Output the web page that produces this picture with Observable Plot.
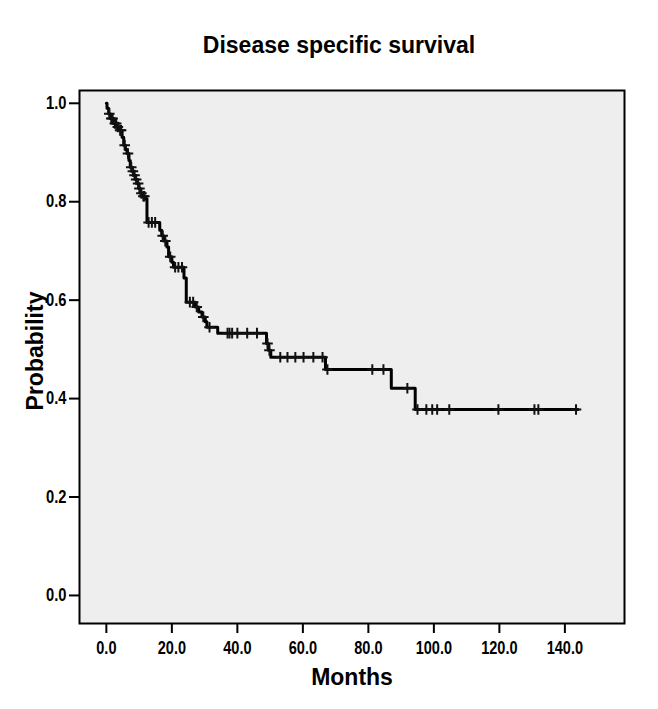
<!DOCTYPE html>
<html>
<head>
<meta charset="utf-8">
<script src="https://cdn.jsdelivr.net/npm/d3@7"></script>
<script src="https://cdn.jsdelivr.net/npm/@observablehq/plot@0.6"></script>
<style>
  html, body { margin: 0; padding: 0; background: #fff; }
  #chart { width: 658px; height: 709px; }
</style>
</head>
<body>
<div id="chart"></div>
<script>
const titleText = "Disease specific survival";
const xLabel = "Months";
const yLabel = "Probability";
const xTicks = [0, 20, 40, 60, 80, 100, 120, 140];
const yTicks = [0, 0.2, 0.4, 0.6, 0.8, 1.0];

// Kaplan-Meier step times (months) and survival after each step
const stepTimes = [0, 0.2, 0.7, 1.2, 2.2, 3.2, 3.9, 4.8, 5.3, 5.8, 6.3, 6.9, 7.3, 7.9, 8.3, 8.9, 9.4, 9.9, 10.4, 11.0, 11.9, 12.4, 16.3, 16.9, 17.5, 18.5, 19.0, 20.0, 20.5, 23.7, 24.4, 27.2, 28.2, 29.2, 30.2, 30.7, 34.0, 48.9, 49.5, 50.2, 66.9, 87.0, 94.3];
const survival  = [1.0, 0.99, 0.979, 0.969, 0.959, 0.952, 0.945, 0.931, 0.915, 0.906, 0.898, 0.884, 0.870, 0.862, 0.854, 0.845, 0.837, 0.827, 0.817, 0.811, 0.806, 0.758, 0.742, 0.731, 0.72, 0.708, 0.688, 0.677, 0.667, 0.645, 0.596, 0.586, 0.576, 0.566, 0.556, 0.545, 0.533, 0.512, 0.498, 0.484, 0.459, 0.421, 0.378];
const lastFollowUp = 144.0;

// Censored observations (months)
const censorTimes = [0.9, 1.5, 1.9, 2.6, 3.0, 3.5, 4.2, 4.5, 5.6, 6.6, 7.6, 8.1, 8.6, 9.1, 9.7, 10.1, 10.7, 11.3, 11.6, 12.9, 13.9, 14.9, 17.2, 18.0, 19.5, 21.0, 22.0, 23.1, 25.5, 26.5, 27.6, 29.6, 31.5, 37.0, 37.6, 38.4, 40.0, 43.0, 46.0, 49.2, 49.8, 53.1, 55.3, 57.7, 60.2, 63.2, 66.0, 67.5, 81.2, 84.6, 91.9, 95.0, 97.7, 99.5, 101.0, 104.7, 119.7, 130.7, 131.9, 143.4];

const curve = stepTimes.map((t, i) => ({t, s: survival[i]}));
curve.push({t: lastFollowUp, s: survival[survival.length - 1]});

const bis = d3.bisector(d => d).right;
const censors = censorTimes.map(t => ({t, s: survival[Math.max(0, bis(stepTimes, t) - 1)]}));

const fmt = d3.format(".1f");
const font = "'Liberation Sans', Arial, sans-serif";

const chart = Plot.plot({
  width: 658,
  height: 709,
  marginTop: 90,
  marginLeft: 79,
  marginRight: 34,
  marginBottom: 86,
  style: {fontFamily: font, fontWeight: "bold", color: "#000", background: "#fff"},
  x: {domain: [-8.2, 158.2]},
  y: {domain: [-0.057, 1.026]},
  marks: [
    Plot.frame({fill: "#eeeeee", stroke: "none"}),
    Plot.line(curve, {x: "t", y: "s", curve: "step-after", stroke: "#000", strokeWidth: 3}),
    Plot.dot(censors, {x: "t", y: "s", symbol: "plus", r: 3.5, stroke: "#111", strokeWidth: 2}),
    Plot.frame({stroke: "#000", strokeWidth: 2}),
    Plot.axisX({ticks: xTicks, tickFormat: fmt, tickSize: 10, tickPadding: 8, fontSize: 17.5, strokeWidth: 2, label: null, ariaLabel: "x-axis"}),
    Plot.axisY({ticks: yTicks, tickFormat: fmt, tickSize: 10, tickPadding: 3, fontSize: 17.5, strokeWidth: 2, label: null, ariaLabel: "y-axis"}),
    Plot.text([titleText], {text: d => d, frameAnchor: "top", lineAnchor: "middle", textAnchor: "middle", dx: -13, dy: -45, fontSize: 23, fontWeight: "bold", ariaLabel: "title"}),
    Plot.text([xLabel], {text: d => d, frameAnchor: "bottom", lineAnchor: "middle", textAnchor: "middle", dy: 54, fontSize: 23, fontWeight: "bold", ariaLabel: "xlabel"}),
    Plot.text([yLabel], {text: d => d, frameAnchor: "left", lineAnchor: "middle", textAnchor: "middle", dx: -44, dy: -6, rotate: -90, fontSize: 23, fontWeight: "bold", ariaLabel: "ylabel"})
  ]
});
document.getElementById("chart").appendChild(chart);

// Condense text horizontally to mimic the narrow typeface of the original
const condense = {"x-axis": 0.83, "y-axis": 0.84, "title": 0.92, "xlabel": 0.83, "ylabel": 0.98};
chart.querySelectorAll("g[aria-label]").forEach(g => {
  const label = g.getAttribute("aria-label");
  let f = null;
  for (const k in condense) if (label.startsWith(k)) f = condense[k];
  if (f == null) return;
  g.querySelectorAll("text").forEach(t => {
    const L = t.getComputedTextLength();
    if (L > 0) {
      t.setAttribute("textLength", (L * f).toFixed(2));
      t.setAttribute("lengthAdjust", "spacingAndGlyphs");
    }
  });
});
</script>
</body>
</html>
